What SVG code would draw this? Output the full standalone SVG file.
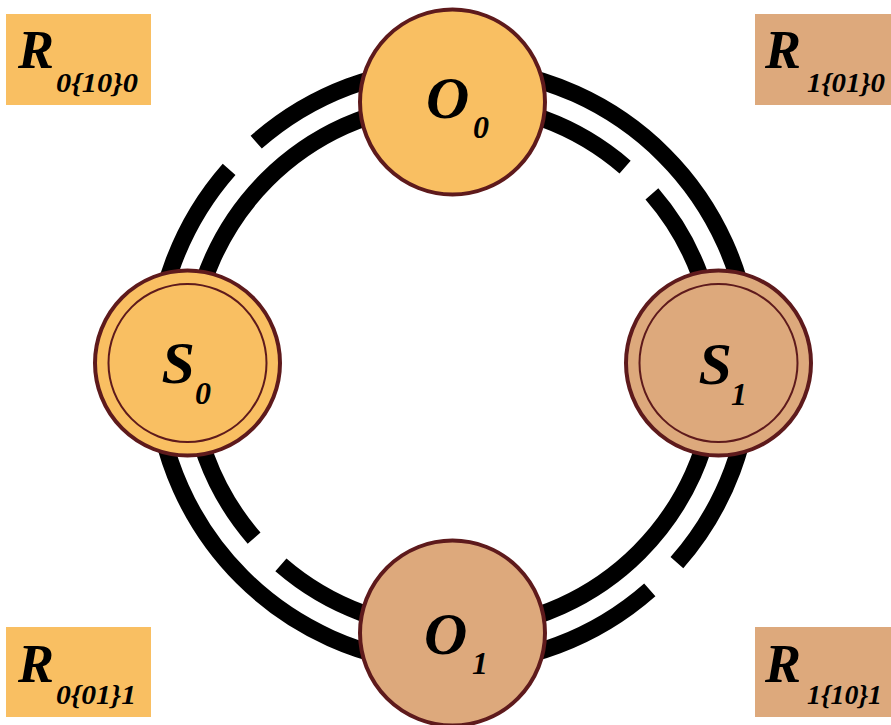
<svg xmlns="http://www.w3.org/2000/svg" width="891" height="725" viewBox="0 0 891 725">
<style>
.arc{fill:none;stroke:#000;stroke-width:17;stroke-linecap:butt}
.n{stroke:#5E1A1C;stroke-width:4}
.ring{fill:none;stroke:#5E1A1C;stroke-width:2}
.ya{fill:#F9BF62}
.ta{fill:#DDA97C}
.big{font-family:"Liberation Serif","Times New Roman",serif;font-weight:bold;font-style:italic;font-size:60px;fill:#000}
.sub{font-family:"Liberation Serif","Times New Roman",serif;font-weight:bold;font-style:italic;font-size:32px;fill:#000}
.rb{font-family:"Liberation Serif","Times New Roman",serif;font-weight:bold;font-style:italic;font-size:54px;fill:#000}
.rs{font-family:"Liberation Serif","Times New Roman",serif;font-weight:bold;font-style:italic;font-size:28px;fill:#000}
</style>
<rect width="891" height="725" fill="#fff"/>
<g id="labels">
<g id="R0100"><rect class="ya" x="6" y="14" width="145" height="91"/><text class="rb" x="18" y="68">R</text><text class="rs" x="56" y="92" textLength="82" lengthAdjust="spacingAndGlyphs">0{10}0</text></g>
<g id="R1010"><rect class="ta" x="755" y="14" width="145" height="91"/><text class="rb" x="765" y="68">R</text><text class="rs" x="807" y="92" textLength="78" lengthAdjust="spacingAndGlyphs">1{01}0</text></g>
<g id="R0011"><rect class="ya" x="6" y="627" width="145" height="90"/><text class="rb" x="18" y="682">R</text><text class="rs" x="56" y="704" textLength="80" lengthAdjust="spacingAndGlyphs">0{01}1</text></g>
<g id="R1101"><rect class="ta" x="755" y="627" width="145" height="90"/><text class="rb" x="765" y="682">R</text><text class="rs" x="807" y="704" textLength="75" lengthAdjust="spacingAndGlyphs">1{10}1</text></g>
</g>
<g id="connectors">
<path class="arc" d="M649.8,589.8 A298,298 0 0 1 229.1,169.3"/>
<path class="arc" d="M256.2,142.2 A298,298 0 0 1 676.9,562.7"/>
<path class="arc" d="M651.9,193.9 A263,263 0 0 1 280.9,564.9"/>
<path class="arc" d="M254.1,538.1 A263,263 0 0 1 625.1,167.1"/>
</g>
<g id="O0"><circle class="n ya" cx="452.5" cy="102" r="92.5"/><text class="big" x="426" y="118">O</text><text class="sub" x="473" y="138">0</text></g>
<g id="S0"><circle class="n ya" cx="187.5" cy="363" r="92.5"/><circle class="ring" cx="187.5" cy="363" r="79"/><text class="big" x="161.5" y="383">S</text><text class="sub" x="195" y="404">0</text></g>
<g id="S1"><circle class="n ta" cx="718.5" cy="363" r="92.5"/><circle class="ring" cx="718.5" cy="363" r="79"/><text class="big" x="698.5" y="384">S</text><text class="sub" x="731" y="405">1</text></g>
<g id="O1"><circle class="n ta" cx="452.5" cy="633" r="92.5"/><text class="big" x="424" y="654">O</text><text class="sub" x="472" y="674">1</text></g>
</svg>
